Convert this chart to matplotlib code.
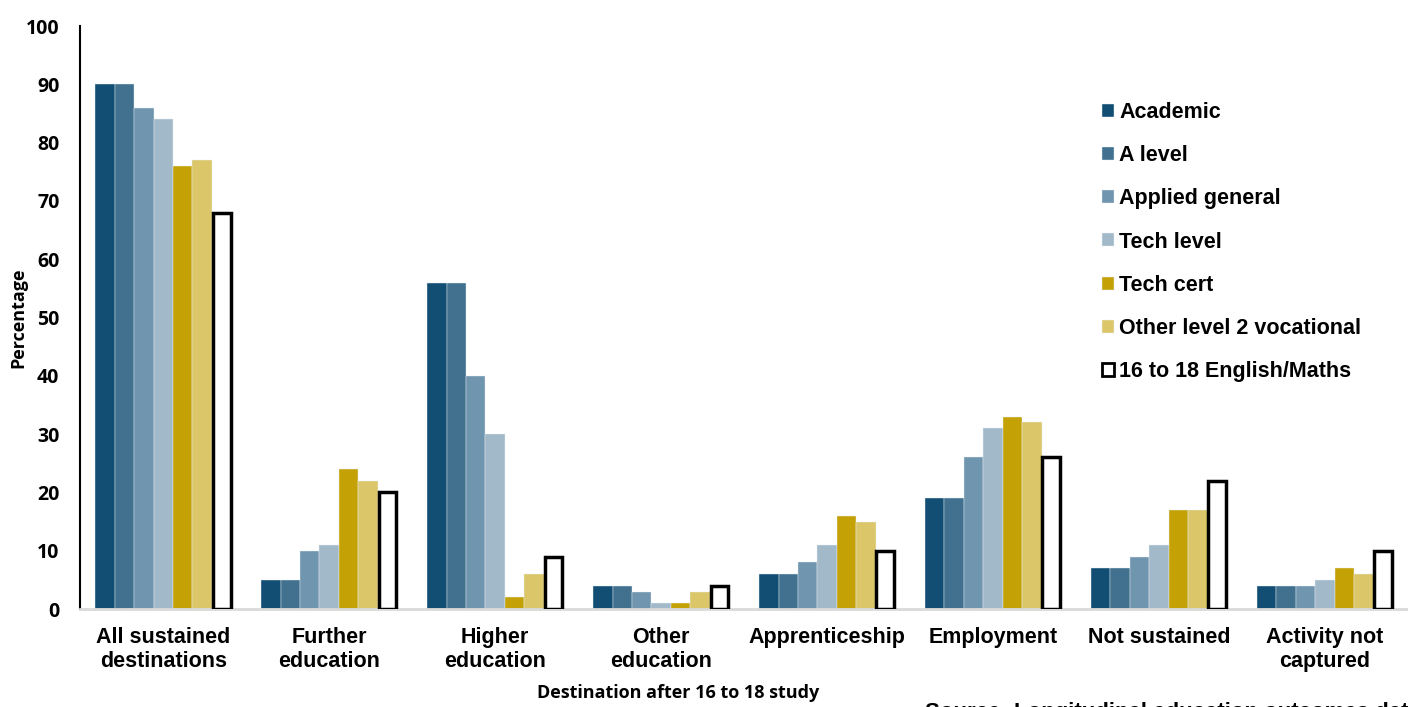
import matplotlib
matplotlib.use("Agg")
import matplotlib.pyplot as plt
import numpy as np

# destinations after 16-18 study
categories = ["All sustained\ndestinations", "Further\neducation", "Higher\neducation",
              "Other\neducation", "Apprenticeship", "Employment", "Not sustained",
              "Activity not\ncaptured"]
series = ["Academic", "A level", "Applied general", "Tech level", "Tech cert",
          "Other level 2 vocational", "16 to 18 English/Maths"]
academic = [90, 5, 56, 4, 6, 19, 7, 4]
a_level = [90, 5, 56, 4, 6, 19, 7, 4]
applied_general = [86, 10, 40, 3, 8, 26, 9, 4]
tech_level = [84, 11, 30, 1, 11, 31, 11, 5]
tech_cert = [76, 24, 2, 1, 16, 33, 17, 7]
other_l2 = [77, 22, 6, 3, 15, 32, 17, 6]
eng_maths = [68, 20, 9, 4, 10, 26, 22, 10]
values = [academic, a_level, applied_general, tech_level, tech_cert, other_l2, eng_maths]

colours = ["#124E73", "#41718F", "#6F95AF", "#A2B9C9", "#C4A206", "#DBC76A", "white"]

fig = plt.figure(figsize=(14.08, 7.07), dpi=100)
ax = fig.add_axes([0.057, 0.1386, 0.943, 0.8245])

x = np.arange(len(categories))
w = 0.82 / 7
for i, (name, vals) in enumerate(zip(series, values)):
    pos = x - 0.41 + w * (i + 0.5)
    if i == 6:
        ax.bar(pos, vals, w * 0.92, color="white", edgecolor="black", linewidth=2.5,
               label=name, zorder=3)
    else:
        ax.bar(pos, vals, w, color=colours[i], edgecolor="#E8EEF2", linewidth=0.3,
               label=name, zorder=2)

ax.set_xlim(-0.5, len(categories) - 0.5)
ax.set_ylim(0, 100)
ax.set_yticks(range(0, 101, 10))
ax.tick_params(length=0)
ax.tick_params(axis="y", pad=15)
ax.tick_params(axis="x", pad=13)
ax.set_xticks(x)
ax.set_xticklabels(categories, fontsize=15.5, fontweight="bold", family="Liberation Sans",
                   linespacing=1.2)
for lab in ax.get_yticklabels():
    lab.set_fontsize(14)
    lab.set_fontweight("bold")
    lab.set_family("Open Sans")

for s in ["top", "right"]:
    ax.spines[s].set_visible(False)
ax.spines["left"].set_color("black")
ax.spines["left"].set_linewidth(1.5)
ax.spines["bottom"].set_color("#D9D9D9")
ax.spines["bottom"].set_linewidth(2)

leg = ax.legend(loc="upper left", bbox_to_anchor=(0.755, 0.903), frameon=False,
                prop={"family": "Liberation Sans", "weight": "bold", "size": 15.5},
                labelspacing=1.03, handlelength=0.55, handleheight=0.55,
                handletextpad=0.25)
for h in leg.legend_handles[6:]:
    h.set_linewidth(2)

fig.text(18 / 1408, 1 - 318 / 707, "Percentage", rotation=90, ha="center", va="center",
         fontsize=13, fontweight="bold", family="Open Sans")
fig.text(678 / 1408, 1 - 693 / 707, "Destination after 16 to 18 study", ha="center",
         va="center", fontsize=13, fontweight="bold", family="Open Sans")
fig.text(925 / 1408, 1 - 702 / 707, "Source: Longitudinal education outcomes dataset",
         ha="left", va="top", fontsize=16, fontweight="bold", family="Liberation Sans")

fig.savefig("out.png", dpi=100)
